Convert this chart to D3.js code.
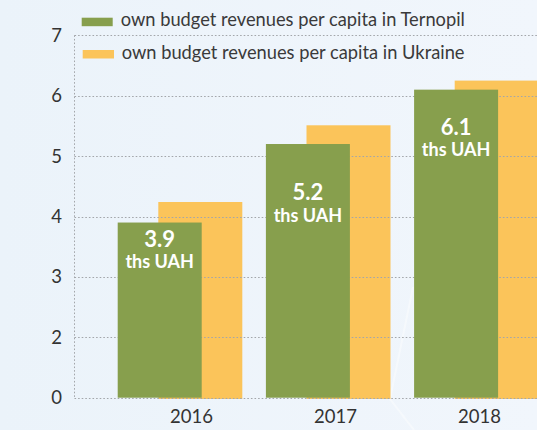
<!DOCTYPE html>
<html>
<head>
<meta charset="utf-8">
<script src="https://cdn.jsdelivr.net/npm/d3@7"></script>
<style>
  html, body { margin: 0; padding: 0; background: #eef5fb; }
  svg { display: block; }
  text { font-family: Lato, "Open Sans", sans-serif; }
</style>
</head>
<body>
<svg id="chart" width="537" height="430"></svg>
<script>
// Own budget revenues per capita, thousand UAH
const years = ["2016", "2017", "2018"];
const ternopil = [3.9, 5.2, 6.1];
const ukraine = [4.24, 5.51, 6.25];
const yTicks = [0, 2, 3, 4, 5, 6, 7];
const seriesNames = [
  "own budget revenues per capita in Ternopil",
  "own budget revenues per capita in Ukraine"
];
const unitLabel = "ths UAH";
const colors = ["#879f4d", "#fbc45a"];

// layout
const W = 537, H = 430;
const axisX = 74.5;
const barW = 84;
const ukraineShift = 40.6;
const labelDrop = [24, 56, 45];   // value-label baseline below bar top

const svg = d3.select("#chart");

// background with a soft left-to-right lightening
const defs = svg.append("defs");
const grad = defs.append("linearGradient").attr("id", "bg").attr("x1", 0).attr("x2", 1).attr("y1", 0).attr("y2", 0);
grad.append("stop").attr("offset", 0).attr("stop-color", "#ebf3fa");
grad.append("stop").attr("offset", 1).attr("stop-color", "#f1f6fc");
svg.append("rect").attr("width", W).attr("height", H).attr("fill", "url(#bg)");

// faint decorative stroke
svg.append("path")
  .attr("d", "M413,287 L390,399 L414,430")
  .attr("fill", "none").attr("stroke", "#ffffff").attr("stroke-width", 2).attr("opacity", 0.4);

// y scale: compressed segment between 0 and 2
const y = d3.scaleLinear().domain([0, 2, 7]).range([397.7, 337.3, 35.3]);
const x = d3.scaleBand().domain(years).range([117.7, 117.7 + 3 * 148.2]);
const xLabel = d3.scalePoint().domain(years).range([191, 479]);

// Ukraine bars sit behind the grid
svg.append("g").selectAll("rect").data(years).join("rect")
  .attr("x", (d) => x(d) + ukraineShift)
  .attr("y", (d, i) => y(ukraine[i]))
  .attr("width", barW)
  .attr("height", (d, i) => y(0) - y(ukraine[i]) + 1.3)
  .attr("fill", colors[1]);

// dotted grid
const grid = svg.append("g").attr("stroke", "#a3a6aa").attr("stroke-width", 1).attr("stroke-dasharray", "1.6,2");
grid.selectAll("line.h").data(yTicks).join("line").attr("class", "h")
  .attr("x1", axisX).attr("x2", W)
  .attr("y1", (d) => Math.round(y(d)) + 0.5).attr("y2", (d) => Math.round(y(d)) + 0.5);
grid.append("line")
  .attr("x1", axisX).attr("x2", axisX)
  .attr("y1", y(7)).attr("y2", y(0));

// Ternopil bars in front
svg.append("g").selectAll("rect").data(years).join("rect")
  .attr("x", (d) => x(d))
  .attr("y", (d, i) => y(ternopil[i]))
  .attr("width", barW)
  .attr("height", (d, i) => y(0) - y(ternopil[i]))
  .attr("fill", colors[0]);

// value labels
const lab = svg.append("g").attr("fill", "#ffffff").attr("font-weight", "bold").attr("text-anchor", "middle");
years.forEach((yr, i) => {
  const cx = x(yr) + barW / 2;
  const base = y(ternopil[i]) + labelDrop[i];
  lab.append("text").attr("x", cx).attr("y", base).attr("font-size", 22).text(d3.format(".1f")(ternopil[i]));
  lab.append("text").attr("x", cx).attr("y", base + 21.5).attr("font-size", 18).text(unitLabel);
});

// y axis labels
const yAxis = svg.append("g").attr("transform", `translate(${axisX},0)`)
  .call(d3.axisLeft(y).tickValues(yTicks).tickSize(0).tickPadding(12.5).tickFormat(d3.format("d")));
yAxis.select(".domain").remove();
yAxis.selectAll("text").attr("font-size", 18.5).attr("fill", "#333333").attr("font-family", "Lato, sans-serif");

// x axis labels
const xAxis = svg.append("g").attr("transform", "translate(0,410)")
  .call(d3.axisBottom(xLabel).tickSize(0).tickPadding(0));
xAxis.select(".domain").remove();
xAxis.selectAll("text").attr("font-size", 18.5).attr("fill", "#333333").attr("font-family", "Lato, sans-serif");

// legend
const legend = svg.append("g");
const legendRows = [
  { sx: 81.7, sy: 17.7, sw: 31, tx: 120.7, ty: 26 },
  { sx: 82.7, sy: 50, sw: 31.3, tx: 121.7, ty: 59 }
];
seriesNames.forEach((name, i) => {
  const r = legendRows[i];
  legend.append("rect").attr("x", r.sx).attr("y", r.sy).attr("width", r.sw).attr("height", 8.5).attr("fill", colors[i]);
  legend.append("text").attr("x", r.tx).attr("y", r.ty).attr("font-size", 18.3).attr("fill", "#3a3a3a").text(name);
});
</script>
</body>
</html>
